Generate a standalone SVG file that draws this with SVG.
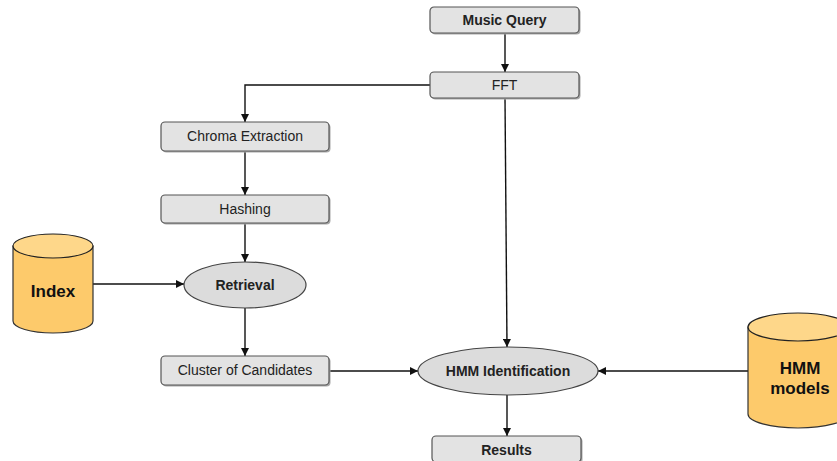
<svg xmlns="http://www.w3.org/2000/svg" width="837" height="461" viewBox="0 0 837 461">
  <style>
    .box { fill: #e3e3e3; stroke: #555; stroke-width: 1.2; }
    .shadow { fill: #a8a8a8; }
    .oval { fill: #dcdcdc; stroke: #444; stroke-width: 1.2; }
    .db { fill: #fdca6b; stroke: #333; stroke-width: 1.2; }
    .dbtop { fill: #fed78a; stroke: #222; stroke-width: 1.2; }
    .lbl { font-family: "Liberation Sans", Arial, sans-serif; font-size: 14px; fill: #222; text-anchor: middle; }
    .bold { font-weight: bold; }
    .big { font-family: "Liberation Sans", Arial, sans-serif; font-size: 17px; font-weight: bold; fill: #111; text-anchor: middle; }
    .edge { fill: none; stroke: #111; stroke-width: 1.4; }
  </style>
  <defs>
    <marker id="arrow" viewBox="0 0 10 10" refX="10" refY="5" markerWidth="8" markerHeight="8" markerUnits="userSpaceOnUse" orient="auto">
      <path d="M0,0 L10,5 L0,10 z" fill="#111"/>
    </marker>
  </defs>
  <rect width="837" height="461" fill="#fff"/>

  <g id="connectors">
    <line class="edge" x1="505" y1="33" x2="505" y2="72" marker-end="url(#arrow)"/>
    <polyline class="edge" points="430,85 245,85 245,122" marker-end="url(#arrow)"/>
    <line class="edge" x1="245" y1="151" x2="245" y2="195" marker-end="url(#arrow)"/>
    <line class="edge" x1="245" y1="223" x2="245" y2="262" marker-end="url(#arrow)"/>
    <line class="edge" x1="93" y1="284" x2="184" y2="284" marker-end="url(#arrow)"/>
    <line class="edge" x1="245" y1="308" x2="245" y2="356" marker-end="url(#arrow)"/>
    <line class="edge" x1="329" y1="371" x2="418" y2="371" marker-end="url(#arrow)"/>
    <line class="edge" x1="505" y1="98" x2="507" y2="347" marker-end="url(#arrow)"/>
    <line class="edge" x1="748" y1="371" x2="598" y2="371" marker-end="url(#arrow)"/>
    <line class="edge" x1="507" y1="395" x2="507" y2="436" marker-end="url(#arrow)"/>
  </g>

  <g id="music-query">
    <rect class="shadow" x="431.5" y="8.5" width="149" height="26" rx="4"/>
    <rect class="box" x="430" y="7" width="149" height="26" rx="4"/>
    <text class="lbl bold" x="504.5" y="25">Music Query</text>
  </g>

  <g id="fft">
    <rect class="shadow" x="431.5" y="73.5" width="149" height="26" rx="4"/>
    <rect class="box" x="430" y="72" width="149" height="26" rx="4"/>
    <text class="lbl" x="504.5" y="90">FFT</text>
  </g>

  <g id="chroma-extraction">
    <rect class="shadow" x="162.5" y="123.5" width="168" height="29" rx="4"/>
    <rect class="box" x="161" y="122" width="168" height="29" rx="4"/>
    <text class="lbl" x="245" y="141">Chroma Extraction</text>
  </g>

  <g id="hashing">
    <rect class="shadow" x="162.5" y="196.5" width="168" height="28" rx="4"/>
    <rect class="box" x="161" y="195" width="168" height="28" rx="4"/>
    <text class="lbl" x="245" y="214">Hashing</text>
  </g>

  <g id="index">
    <path class="db" d="M13,246 L13,321 A40,12 0 0 0 93,321 L93,246 Z"/>
    <ellipse class="dbtop" cx="53" cy="246" rx="40" ry="12"/>
    <text class="big" x="53" y="297">Index</text>
  </g>

  <g id="retrieval">
    <ellipse class="oval" cx="245" cy="285" rx="61" ry="23"/>
    <text class="lbl bold" x="245" y="290">Retrieval</text>
  </g>

  <g id="cluster-of-candidates">
    <rect class="shadow" x="162.5" y="357.5" width="168" height="29" rx="4"/>
    <rect class="box" x="161" y="356" width="168" height="29" rx="4"/>
    <text class="lbl" x="245" y="375">Cluster of Candidates</text>
  </g>

  <g id="hmm-identification">
    <ellipse class="oval" cx="508" cy="371" rx="90" ry="24"/>
    <text class="lbl bold" x="508" y="376">HMM Identification</text>
  </g>

  <g id="hmm-models">
    <path class="db" d="M748,327 L748,414 A50,14 0 0 0 848,414 L848,327 Z"/>
    <ellipse class="dbtop" cx="798" cy="327" rx="50" ry="14"/>
    <text class="big" x="800" y="374">HMM</text>
    <text class="big" x="800" y="394">models</text>
  </g>

  <g id="results">
    <rect class="shadow" x="433.5" y="437.5" width="149" height="26" rx="4"/>
    <rect class="box" x="432" y="436" width="149" height="26" rx="4"/>
    <text class="lbl bold" x="506.5" y="455">Results</text>
  </g>
</svg>
